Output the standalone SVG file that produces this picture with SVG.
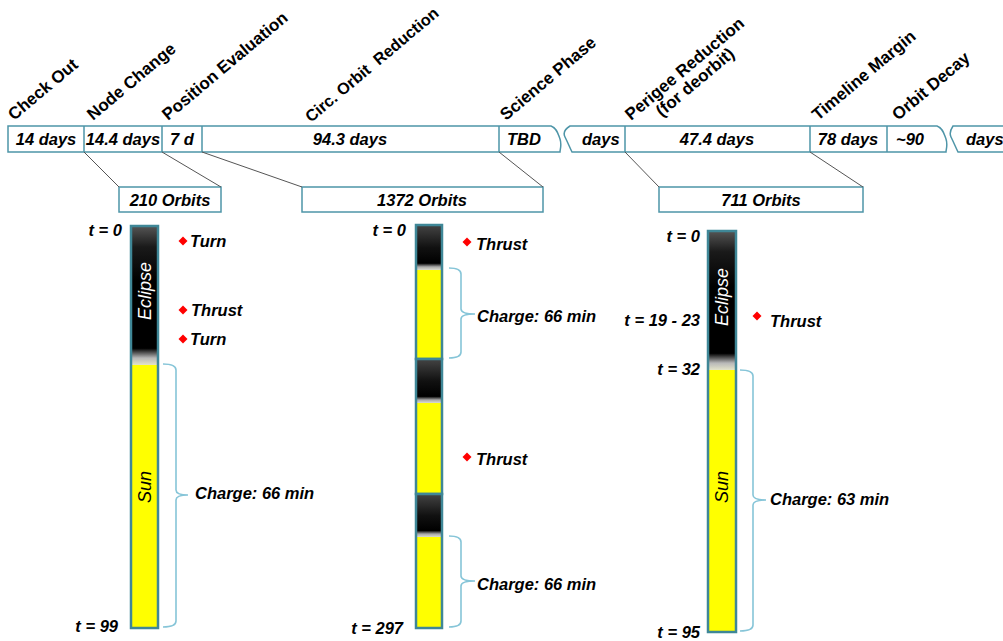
<svg xmlns="http://www.w3.org/2000/svg" width="1003" height="641" viewBox="0 0 1003 641">
<style>
.lbl{font-family:"Liberation Sans",Arial,sans-serif;font-weight:bold;font-size:17px;fill:#000}
.t{font-family:"Liberation Sans",Arial,sans-serif;font-weight:bold;font-style:italic;font-size:16.5px;fill:#000}
.c{text-anchor:middle}
.e{text-anchor:end}
.box{fill:#fff;stroke:#4E95A8;stroke-width:1.5}
.conn{fill:none;stroke:#555;stroke-width:1}
.brace{fill:none;stroke:#86C5D8;stroke-width:1.6}
.bar{fill:none;stroke:#3F8797;stroke-width:2.5}
.sun{fill:#FFFF00}
.dia{fill:#FF0000}
.vt{font-family:"Liberation Sans",Arial,sans-serif;font-style:italic;font-size:18px;text-anchor:middle}
</style>
<defs>
<linearGradient id="ecl" x1="0" y1="0" x2="0" y2="1">
<stop offset="0" stop-color="#555"/>
<stop offset="0.15" stop-color="#1a1a1a"/>
<stop offset="0.4" stop-color="#000"/>
<stop offset="0.88" stop-color="#000"/>
<stop offset="0.95" stop-color="#b8b8b8"/>
<stop offset="1" stop-color="#e4e4c8"/>
</linearGradient>
<linearGradient id="ecl2" x1="0" y1="0" x2="0" y2="1">
<stop offset="0" stop-color="#444"/>
<stop offset="0.5" stop-color="#111"/>
<stop offset="0.85" stop-color="#000"/>
<stop offset="0.93" stop-color="#a8a8a8"/>
<stop offset="1" stop-color="#dcdcd0"/>
</linearGradient>
<symbol id="d" overflow="visible"><path d="M0,-4.5 L4.5,0 L0,4.5 L-4.5,0 Z"/></symbol>
</defs>
<rect width="1003" height="641" fill="#fff"/>

<g id="phase-labels">
<text class="lbl" transform="translate(14,121) rotate(-40)">Check Out</text>
<text class="lbl" transform="translate(93,121) rotate(-40)">Node Change</text>
<text class="lbl" transform="translate(168,121) rotate(-40)">Position Evaluation</text>
<text class="lbl" style="font-size:16.3px" transform="translate(311,123) rotate(-40)" xml:space="preserve">Circ. Orbit  Reduction</text>
<text class="lbl" transform="translate(506,121) rotate(-40)">Science Phase</text>
<g transform="translate(631,121) rotate(-40)">
<text class="lbl">Perigee Reduction</text>
<text class="lbl c" x="74" y="17">(for deorbit)</text>
</g>
<text class="lbl" transform="translate(818,121) rotate(-40)">Timeline Margin</text>
<text class="lbl" transform="translate(898,121) rotate(-40)">Orbit Decay</text>
</g>

<g id="timeline">
<path class="box" d="M8,126 L551,126 C557,128 558,134 560,139 C562,145 560,149 560,152 L8,152 Z"/>
<path class="box" d="M570,126 L937,126 C943,128 944,134 946,139 C948,145 946,149 946,152 L572,152 C570,148 568,143 565,137 C563,133 565,129 570,126 Z"/>
<path class="box" d="M953,126 L1010,126 L1010,152 L958,152 C956,148 954,143 951,137 C949,133 951,129 953,126 Z"/>
<path class="box" d="M84,126 V152 M162,126 V152 M202,126 V152 M499,126 V152 M625,126 V152 M810,126 V152 M887,126 V152"/>
<text class="t c" x="46" y="145">14 days</text>
<text class="t c" x="123" y="145">14.4 days</text>
<text class="t c" x="182" y="145">7 d</text>
<text class="t c" x="350" y="145">94.3 days</text>
<text class="t" x="507" y="145">TBD</text>
<text class="t" x="582" y="145">days</text>
<text class="t c" x="717" y="145">47.4 days</text>
<text class="t c" x="848" y="145">78 days</text>
<text class="t" x="896" y="145">~90</text>
<text class="t" x="966" y="145">days</text>
</g>

<g id="orbits-210"><rect class="box" x="119" y="187" width="102" height="25"/><text class="t c" x="170" y="206">210 Orbits</text></g>
<g id="orbits-1372"><rect class="box" x="302" y="187" width="241" height="25"/><text class="t c" x="422" y="206">1372 Orbits</text></g>
<g id="orbits-711"><rect class="box" x="659" y="187" width="204" height="25"/><text class="t c" x="761" y="206">711 Orbits</text></g>

<g id="connectors">
<path class="conn" d="M84,152 L119,187 M162,152 L221,187 M202,152 L302,187 M499,152 L543,187 M625,152 L659,187 M810,152 L863,187"/>
<path class="brace" d="M163,364 Q176,364 176,370 L176,490 Q176,495 188,495 Q176,495 176,500 L176,621 Q176,627 163,627"/>
<path class="brace" d="M449,268 Q461,268 461,274 L461,309 Q461,314 475,314 Q461,314 461,319 L461,352 Q461,358 449,358"/>
<path class="brace" d="M449,536 Q461,536 461,542 L461,576 Q461,581 475,581 Q461,581 461,586 L461,621 Q461,627 449,627"/>
<path class="brace" d="M740,370 Q753,370 753,376 L753,495 Q753,500 766,500 Q753,500 753,505 L753,625 Q753,631 740,631"/>
</g>

<g id="bar1">
<rect class="sun" x="131" y="226" width="27" height="402"/>
<rect x="131" y="226" width="27" height="139" fill="url(#ecl)"/>
<rect class="bar" x="131" y="226" width="27" height="402"/>
<text class="vt" fill="#fff" transform="translate(151,291) rotate(-90)">Eclipse</text>
<text class="vt" fill="#000" transform="translate(151,487) rotate(-90)">Sun</text>
<text class="t e" x="122" y="236">t = 0</text>
<text class="t e" x="118" y="632">t = 99</text>
<use href="#d" class="dia" x="183" y="241"/><text class="t" x="190" y="247">Turn</text>
<use href="#d" class="dia" x="183" y="310"/><text class="t" x="191" y="316">Thrust</text>
<use href="#d" class="dia" x="183" y="339"/><text class="t" x="190" y="345">Turn</text>
<text class="t" x="195" y="499">Charge: 66 min</text>
</g>

<g id="bar2">
<rect class="sun" x="416" y="225" width="26" height="134"/>
<rect x="416" y="225" width="26" height="45" fill="url(#ecl2)"/>
<rect class="bar" x="416" y="225" width="26" height="134"/>
<rect class="sun" x="416" y="359" width="26" height="135"/>
<rect x="416" y="359" width="26" height="44" fill="url(#ecl2)"/>
<rect class="bar" x="416" y="359" width="26" height="135"/>
<rect class="sun" x="416" y="494" width="26" height="134"/>
<rect x="416" y="494" width="26" height="43" fill="url(#ecl2)"/>
<rect class="bar" x="416" y="494" width="26" height="134"/>
<text class="t e" x="406" y="236">t = 0</text>
<text class="t e" x="403" y="634">t = 297</text>
<use href="#d" class="dia" x="467" y="242"/><text class="t" x="476" y="250">Thrust</text>
<use href="#d" class="dia" x="467" y="457"/><text class="t" x="476" y="465">Thrust</text>
<text class="t" x="477" y="322">Charge: 66 min</text>
<text class="t" x="477" y="590">Charge: 66 min</text>
</g>

<g id="bar3">
<rect class="sun" x="708" y="231" width="28" height="401"/>
<rect x="708" y="231" width="28" height="139" fill="url(#ecl)"/>
<rect class="bar" x="708" y="231" width="28" height="401"/>
<text class="vt" fill="#fff" transform="translate(728,297) rotate(-90)">Eclipse</text>
<text class="vt" fill="#000" transform="translate(728,487) rotate(-90)">Sun</text>
<text class="t e" x="700" y="242">t = 0</text>
<text class="t e" x="700" y="326">t = 19 - 23</text>
<text class="t e" x="700" y="375">t = 32</text>
<text class="t e" x="700" y="638">t = 95</text>
<use href="#d" class="dia" x="757" y="316"/><text class="t" x="770" y="327">Thrust</text>
<text class="t" x="770" y="505">Charge: 63 min</text>
</g>
</svg>
